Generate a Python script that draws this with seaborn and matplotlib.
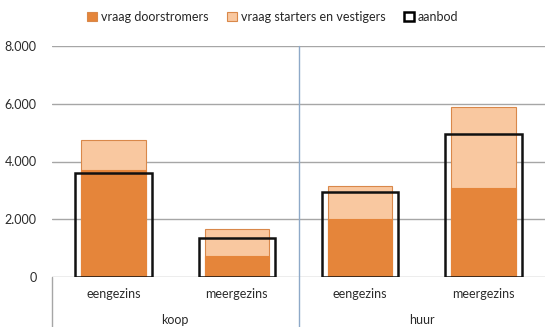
import matplotlib
matplotlib.use("Agg")
import matplotlib.pyplot as plt
import matplotlib.transforms as mtransforms
from matplotlib.patches import Patch
import seaborn as sns
import pandas as pd

groups = ["koop", "koop", "huur", "huur"]
types = ["eengezins", "meergezins", "eengezins", "meergezins"]
doorstromers = [3700, 730, 2000, 3080]
starters = [1050, 920, 1150, 2810]
aanbod = [3600, 1350, 2950, 4950]
yticks = [0, 2000, 4000, 6000, 8000]
ytick_labels = ["0", "2.000", "4.000", "6.000", "8.000"]

sns.set_theme(style="white")
plt.rcParams["font.family"] = ["Lato", "DejaVu Sans"]

keys = [f"{g}|{t}" for g, t in zip(groups, types)]
df = pd.DataFrame({
    "cat": keys,
    "door": doorstromers,
    "total": [d + s for d, s in zip(doorstromers, starters)],
    "aanbod": aanbod,
})

c_door = "#E5853A"
c_start = "#F9C8A0"
c_edge = "#D9884A"
txt = "#2B2B2B"
fs = 9

fig = plt.figure(figsize=(5.45, 3.27), dpi=100)
ax = fig.add_axes([52 / 545, 1 - 277 / 327, 1 - 52 / 545, 231 / 327])

for y in yticks[1:]:
    ax.axhline(y, color="#A6A6A6", lw=1, zorder=0)
ax.axhline(0, color="#A6A6A6", lw=1, zorder=0.5)

sns.barplot(data=df, x="cat", y="total", order=keys, color=c_start, width=0.525,
            edgecolor=c_edge, linewidth=0.8, saturation=1, ax=ax, zorder=2)
sns.barplot(data=df, x="cat", y="door", order=keys, color=c_door, width=0.525,
            edgecolor=c_door, linewidth=0.8, saturation=1, ax=ax, zorder=3)
sns.barplot(data=df, x="cat", y="aanbod", order=keys, fill=False, width=0.62,
            edgecolor="#111111", linewidth=1.8, ax=ax, zorder=4)

ax.set_xlim(-0.5, 3.5)
ax.set_ylim(0, 8000)
ax.set_yticks(yticks)
ax.set_yticklabels(ytick_labels, fontsize=fs, color=txt)
ax.set_xticks(range(len(keys)))
ax.set_xticklabels(types, fontsize=fs, color=txt)
ax.tick_params(axis="y", length=0, pad=11)
ax.tick_params(axis="x", length=0, pad=8)
ax.set_xlabel("")
ax.set_ylabel("")
for s in ax.spines.values():
    s.set_visible(False)

trans = mtransforms.blended_transform_factory(ax.transData, ax.transAxes)
ax.plot([-0.5, -0.5], [-0.22, 0], transform=trans, color="#A6A6A6", lw=1, clip_on=False)
ax.plot([1.5, 1.5], [-0.22, 1.0], transform=trans, color="#8EA9C8", lw=1, clip_on=False)

ax.text(0.5, -0.185, "koop", transform=trans, ha="center", va="center", fontsize=fs, color=txt)
ax.text(2.5, -0.185, "huur", transform=trans, ha="center", va="center", fontsize=fs, color=txt)

handles = [
    Patch(facecolor=c_door, edgecolor=c_edge, linewidth=0.8),
    Patch(facecolor=c_start, edgecolor=c_edge, linewidth=0.8),
    Patch(facecolor="white", edgecolor="black", linewidth=1.8),
]
fig.legend(handles, ["vraag doorstromers", "vraag starters en vestigers", "aanbod"],
           loc="center", bbox_to_anchor=(0.5, 1 - 17 / 327), ncol=3, frameon=False,
           fontsize=fs, handlelength=0.8, handleheight=0.8, handletextpad=0.3,
           columnspacing=1.5)

fig.savefig("out.png", dpi=100)
